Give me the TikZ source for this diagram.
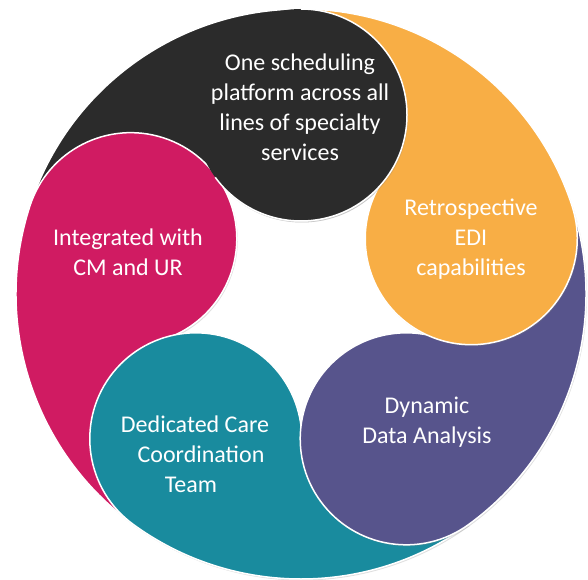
\documentclass[tikz,border=0pt]{standalone}
\usepackage{fontspec}
\setmainfont{Carlito}
\usetikzlibrary{shadows}
\definecolor{blk}{HTML}{2B2B2B}
\definecolor{mag}{HTML}{D01B62}
\definecolor{teal}{HTML}{198B9E}
\definecolor{purp}{HTML}{57548C}
\definecolor{orng}{HTML}{F8AE45}
\tikzset{
    gota/.style={draw=white,line width=1.5pt,
        drop shadow={opacity=0.25,shadow xshift=1pt,shadow yshift=-1.5pt}},
    texto/.style={text=white,align=center,font=\fontsize{24}{30}\selectfont}
}
\begin{document}
\begin{tikzpicture}[x=1pt,y=1pt]
\def\Rout{285}
\def\dist{179}
\def\rad{106}
    \useasboundingbox (0,0) rectangle (588,579);
\begin{scope}[shift={(301,285)}]
    %Gotas, cada cola pasa bajo el circulo siguiente
    \foreach \a/\c in {90/blk,162/mag,234/teal,306/purp,18/orng}{
        \draw[gota,fill=\c] (\a:\Rout) arc[start angle=\a,end angle=\a-234,radius=\rad]
            -- (\a+72:\dist) -- (\a+72:\Rout) arc[start angle=\a+72,end angle=\a,radius=\Rout] -- cycle;
    }
    %Circulo negro otra vez, encima de la cola naranja
    \fill[blk,drop shadow={opacity=0.25,shadow xshift=1pt,shadow yshift=-1.5pt}] (90:\dist) circle[radius=\rad];
    \draw[white,line width=1.5pt] (90:\Rout) arc[start angle=90,end angle=-144,radius=\rad];

    %Textos
    \node[texto] (sched) at (-1,186.5) {One scheduling\\platform across all\\lines of specialty\\services};
    \node[texto] (retro) at (170,55) {Retrospective\\EDI\\capabilities};
    \node[texto] (integ) at (-173,41.5) {Integrated with\\CM and UR};
    \node[texto] (dedic) at (-106,-160) {Dedicated Care\\\hspace*{12pt}Coordination\\Team\hspace*{8pt}};
    \node[texto] (dynam) at (126,-128) {Dynamic\\Data Analysis};
\end{scope}
\end{tikzpicture}
\end{document}
